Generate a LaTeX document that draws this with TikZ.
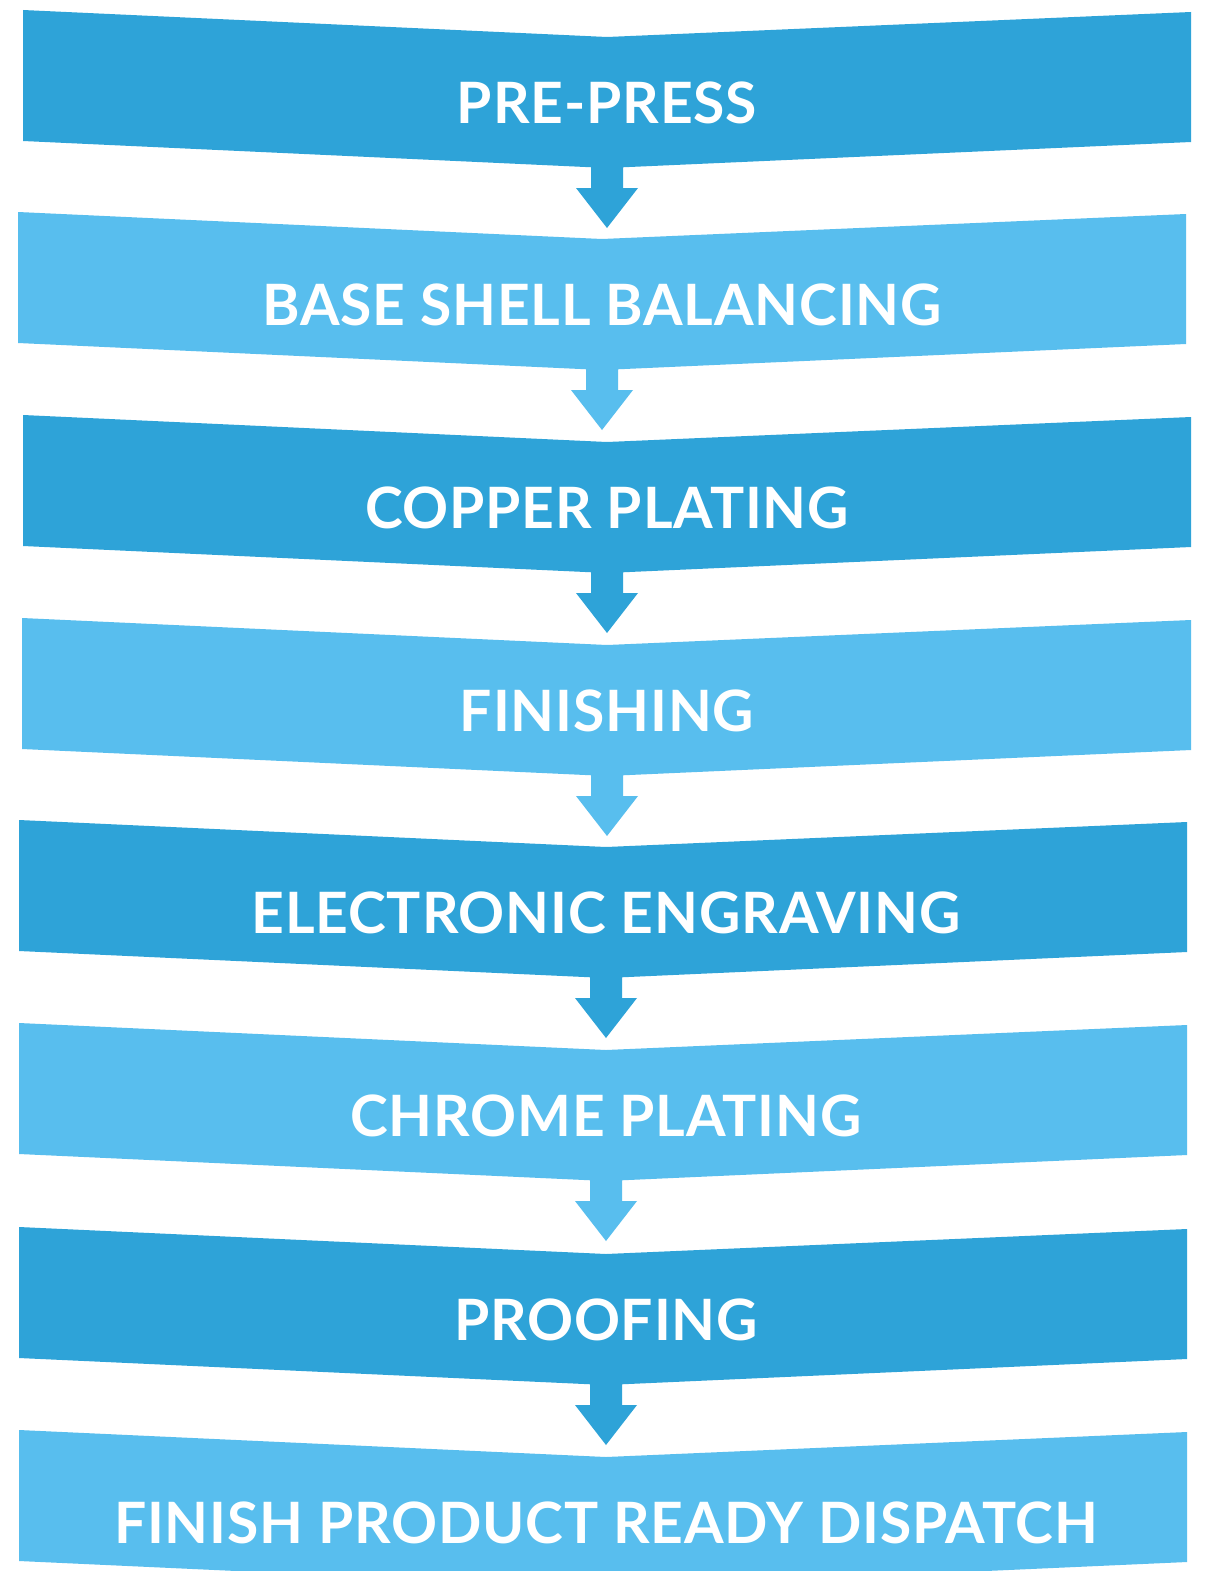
\documentclass[tikz,border=0pt]{standalone}
\usepackage{fontspec}
\setmainfont{Lato}[LetterSpace=1.5]
\definecolor{darkblue}{HTML}{2EA3D8}
\definecolor{lightblue}{HTML}{58BEEE}
\tikzset{
  steplabel/.style={text=white, font=\bfseries\fontsize{57}{60}\selectfont, anchor=base, inner sep=0pt},
}
% #1 top y, #2 left x, #3 right x, #4 middle x, #5 colour, #6 name, #7 text
\newcommand{\bandbox}[7]{%
  \fill[#5] (#2,#1) -- (#4,#1+27) -- (#3,#1+2) -- (#3,#1+132) -- (#4,#1+158) -- (#2,#1+131) -- cycle;
  \node[steplabel] (#6) at (#4,#1+113) {#7};
  \coordinate (#6b) at (#4,#1+156);
  \coordinate (#6t) at (#4,#1+218);
}
\newcommand{\blockarrow}[3]{% #1 from-bottom coordinate, #2 tip coordinate, #3 colour
  \fill[#3] ($(#1)+(-16,0)$) -- ($(#1)+(16,0)$) -- ($(#1)+(16,22)$) -- ($(#1)+(31,22)$) -- (#2) -- ($(#1)+(-31,22)$) -- ($(#1)+(-16,22)$) -- cycle;
}
\usetikzlibrary{calc}
\begin{document}
\begin{tikzpicture}[x=1pt,y=-1pt]
\useasboundingbox (0,0) rectangle (1211,1571);
\clip (0,0) rectangle (1211,1571);
\fill[white] (0,0) rectangle (1211,1571);
\bandbox{10}{23}{1191}{607}{darkblue}{s1}{PRE-PRESS}
\bandbox{212}{18}{1186}{602}{lightblue}{s2}{BASE SHELL BALANCING}
\bandbox{415}{23}{1191}{607}{darkblue}{s3}{COPPER PLATING}
\bandbox{618}{22}{1191}{607}{lightblue}{s4}{FINISHING}
\bandbox{820}{19}{1187}{606}{darkblue}{s5}{ELECTRONIC ENGRAVING}
\bandbox{1023}{19}{1187}{606}{lightblue}{s6}{CHROME PLATING}
\bandbox{1227}{19}{1187}{606}{darkblue}{s7}{PROOFING}
\bandbox{1430}{19}{1187}{606}{lightblue}{s8}{FINISH PRODUCT READY DISPATCH}
\blockarrow{s1b}{s1t}{darkblue}
\blockarrow{s2b}{s2t}{lightblue}
\blockarrow{s3b}{s3t}{darkblue}
\blockarrow{s4b}{s4t}{lightblue}
\blockarrow{s5b}{s5t}{darkblue}
\blockarrow{s6b}{s6t}{lightblue}
\blockarrow{s7b}{s7t}{darkblue}
\end{tikzpicture}
\end{document}
